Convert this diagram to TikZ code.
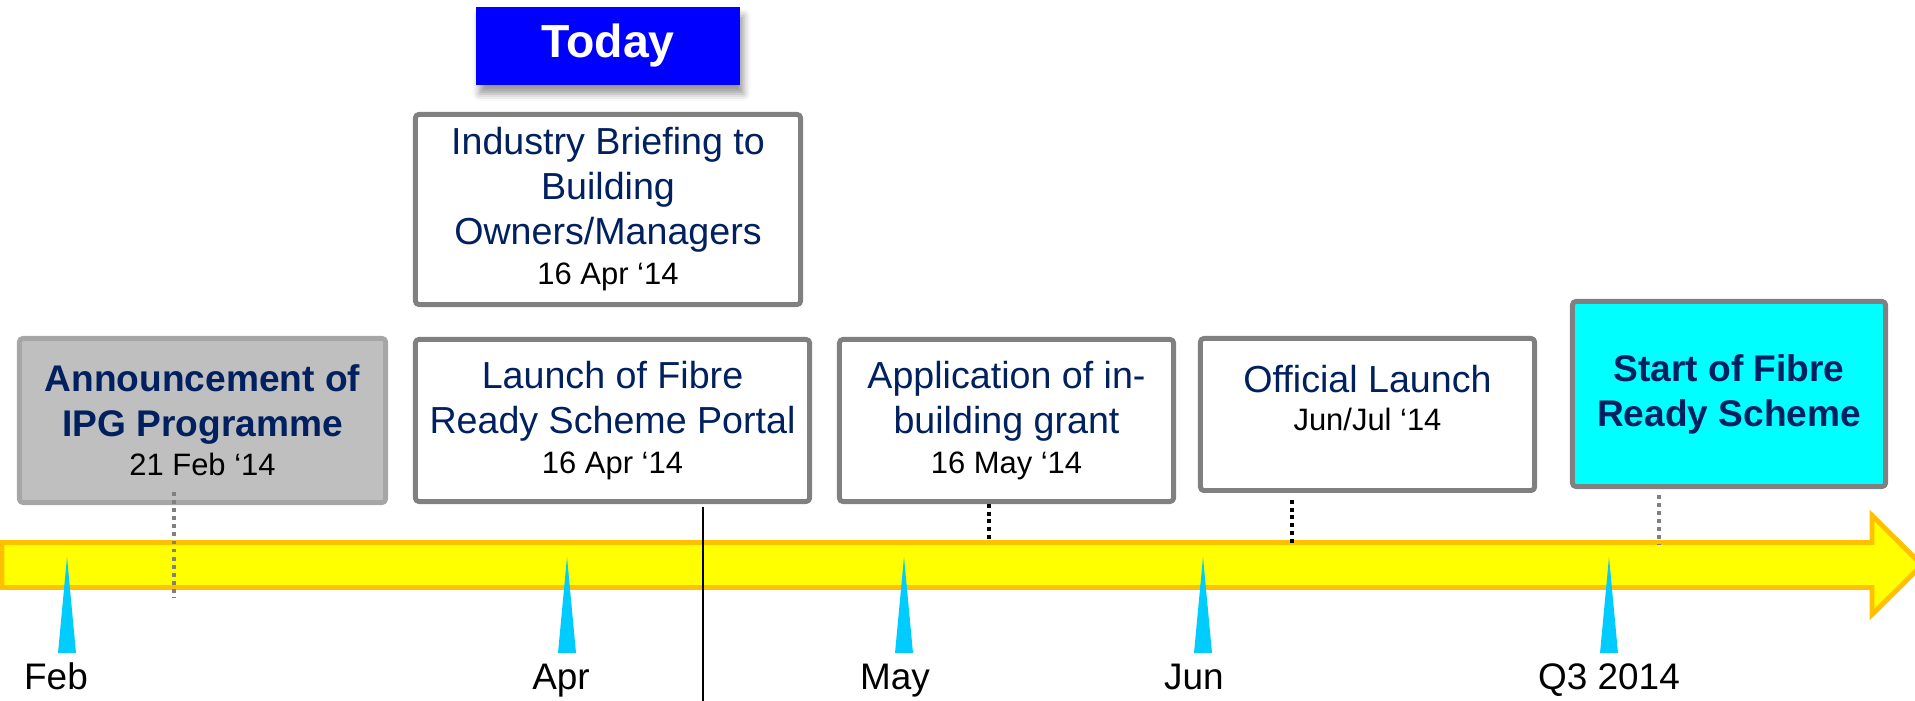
\documentclass[tikz,border=0pt]{standalone}
\usepackage{fontspec}
\setmainfont{Liberation Sans}
\usetikzlibrary{shadows.blur}
\definecolor{navy}{RGB}{0,32,96}
\definecolor{boxgrey}{RGB}{128,128,128}
\definecolor{annfill}{RGB}{191,191,191}
\definecolor{annline}{RGB}{166,166,166}
\definecolor{startfill}{RGB}{0,255,255}
\definecolor{todayfill}{RGB}{0,0,255}
\definecolor{bandfill}{RGB}{255,255,0}
\definecolor{bandline}{RGB}{255,192,0}
\definecolor{tickcol}{RGB}{0,204,255}
\newcommand\datetxt[1]{{\normalfont\color{black}\fontsize{8.8}{10}\selectfont #1}}

\begin{document}
\begin{tikzpicture}[x=0.01cm,y=-0.01cm,line join=round
	,box/.style={draw=boxgrey,line width=1.4pt,rounded corners=1pt,fill=white,align=center,inner sep=0pt,text=navy,font=\fontsize{10.7}{12.8}\selectfont}
	,boldbox/.style={box,font=\fontsize{10.55}{12.8}\selectfont\bfseries}
	,greydots/.style={boxgrey,line width=1.1pt,dash pattern=on 1.1pt off 1.2pt}
	,blackdots/.style={black,line width=1.1pt,dash pattern=on 1.1pt off 1.1pt}
	,month/.style={anchor=base,font=\fontsize{10.5}{12}\selectfont}
	]
	%	\draw[thin,gray!50,step=100] (0,0) grid (1915,701);
	\useasboundingbox (0,0) rectangle (1915,701);
	
	\draw[bandline,fill=bandfill,line width=1.4pt,line join=miter] (2,542.5)--(1872,542.5)--(1872,515.5)--(1922,565)--(1872,614.5)--(1872,587.5)--(2,587.5)--cycle;
	\foreach \x/\lx/\m in {67/56/Feb,567/561/Apr,904/895/May,1203/1194/Jun,1609/1609/Q3 2014}{
		\fill[tickcol] (\x,557)--(\x+9,653)--(\x-9,653)--cycle;
		\node[month] (m\x) at (\lx,690) {\m};
	}
	
	\node[box,fill=todayfill,draw=none,text=white,font=\fontsize{13.2}{15}\selectfont\bfseries,minimum width=2.64cm,minimum height=0.78cm,rounded corners=0pt,blur shadow={shadow xshift=1pt,shadow yshift=-2.5pt,shadow blur radius=2pt}] (today) at (608,46) {Today};
	\node[box,minimum width=3.85cm,minimum height=1.90cm] (brief) at (608,209.5) {Industry Briefing to\\Building\\Owners/Managers\\[-1.4pt]\datetxt{16 Apr ‘14}};
	\node[boldbox,fill=annfill,draw=annline,minimum width=3.66cm,minimum height=1.64cm] (announce) at (202.5,420.5) {Announcement of\\IPG Programme\\[-1.6pt]\datetxt{21 Feb ‘14}};
	\node[box,minimum width=3.94cm,minimum height=1.62cm] (portal) at (612.5,420.5) {Launch of Fibre\\Ready Scheme Portal\\[-1.4pt]\datetxt{16 Apr ‘14}};
	\node[box,minimum width=3.34cm,minimum height=1.62cm] (grant) at (1006.5,420.5) {Application of in-\\building grant\\[-1.4pt]\datetxt{16 May ‘14}};
	\node[box,minimum width=3.34cm,minimum height=1.52cm,text depth=9.6pt] (official) at (1367.5,414.5) {Official Launch\\[-1.9pt]\datetxt{Jun/Jul ‘14}};
	\node[boldbox,fill=startfill,minimum width=3.13cm,minimum height=1.85cm] (start) at (1729,394) {Start of Fibre\\Ready Scheme};
	
	\draw[greydots] (announce.south) ++(-28.5,-13) -- ++(0,106);
	\draw[greydots] (start.south) ++(-70,6) -- ++(0,50);
	\draw[blackdots] (grant.south) ++(-17.5,0) -- ++(0,37);
	\draw[blackdots] (official.south) ++(-75.5,7) -- ++(0,43);
	
	\coordinate (nowtop) at (703,507);
	\coordinate (nowbot) at (703,701);
	\draw[line width=0.5pt] (nowtop)--(nowbot);
\end{tikzpicture}
\end{document}
